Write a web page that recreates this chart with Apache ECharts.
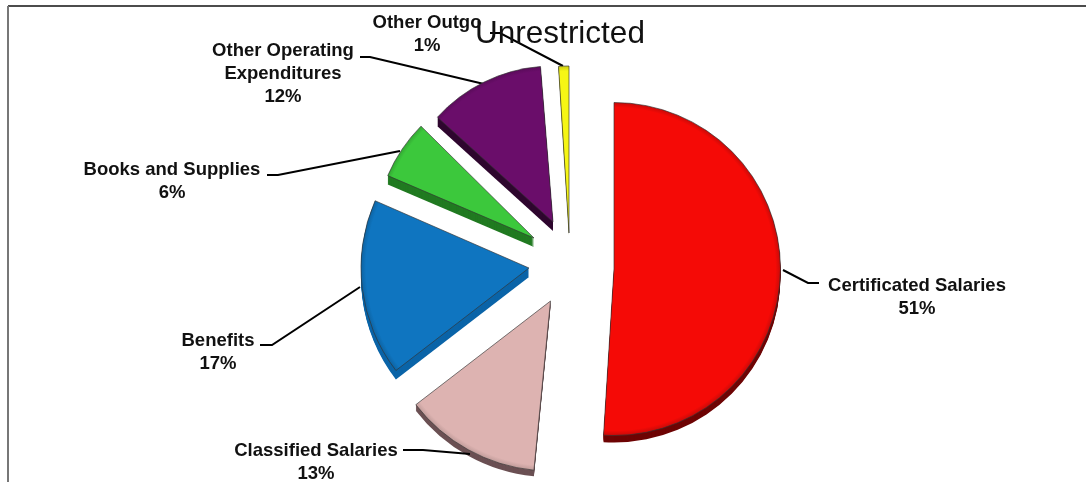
<!DOCTYPE html>
<html>
<head>
<meta charset="utf-8">
<style>html,body{margin:0;padding:0;background:#fff}#chart{width:1086px;height:482px}</style>
<script src="https://cdn.jsdelivr.net/npm/echarts@6/dist/echarts.min.js"></script>
</head>
<body>
<div id="chart"></div>
<script>
// Unrestricted general fund expenditures, share by category
const categories = ['Certificated Salaries', 'Classified Salaries', 'Benefits', 'Books and Supplies', 'Other Operating\nExpenditures', 'Other Outgo'];
const shares = [51, 13, 17, 6, 12, 1];
const chartTitle = 'Unrestricted';

// Appearance of each exploded wedge
const faceColors = ['#f50a06', '#ddb3b1', '#0f75c0', '#3cc83c', '#6a0d6a', '#f6f615'];
const rimColors = ['#c80a08', '#c09c9a', '#0d63a2', '#33a833', '#5a0b5a', '#c8c812'];
const sideColors = ['#6e0404', '#6b5053', '#0a64a8', '#217a21', '#2e062e', '#6b6b10'];
const centers = [[614, 269], [550.5, 301], [529, 268], [534, 238], [553, 222], [569, 233]];
const radii = [166.5, 170, 168, 159, 156, 167];
const depths = [7, 6, 9, 9, 9, 2];
const tilt = [0, 2, 2, 1.5, -1, 0];
const labelSpots = [[917, 297], [316, 462], [218, 352], [172, 181], [283, 74], [427, 34]];
const leaders = [
  [[783, 270], [808, 283], [819, 283]],
  [[470, 454], [423, 450], [403, 450]],
  [[360, 287], [272, 345], [260, 345]],
  [[400, 151], [278, 175], [267, 175]],
  [[484, 84], [370, 57], [360, 57]],
  [[563, 66], [500, 33], [490, 33]]
];

const font = '"Liberation Sans", Arial, sans-serif';
const hidden = { color: 'rgba(0,0,0,0)', borderWidth: 0, opacity: 0 };

// One pie per layer so every wedge can sit at its own centre
function wedge(i, dy, isFace) {
  const [cx, cy] = centers[i];
  return {
    type: 'pie',
    z: isFace ? 5 : 2,
    silent: true,
    animation: false,
    clockwise: true,
    startAngle: 90 - tilt[i],
    center: [cx, cy + dy],
    radius: [0, radii[i]],
    percentPrecision: 0,
    avoidLabelOverlap: false,
    labelLayout: isFace ? () => ({
      x: labelSpots[i][0],
      y: labelSpots[i][1],
      align: 'center',
      verticalAlign: 'middle',
      labelLinePoints: leaders[i]
    }) : undefined,
    data: categories.map((name, k) => {
      if (k !== i) {
        return { name, value: shares[k], itemStyle: hidden, label: { show: false }, labelLine: { show: false } };
      }
      return {
        name,
        value: shares[k],
        itemStyle: isFace ? {
          color: {
            type: 'radial', global: true, x: cx, y: cy, r: radii[i],
            colorStops: [
              { offset: 0, color: faceColors[i] },
              { offset: 0.97, color: faceColors[i] },
              { offset: 1, color: rimColors[i] }
            ]
          },
          borderColor: 'rgba(50,50,50,0.65)',
          borderWidth: 1
        } : { color: sideColors[i], borderWidth: 0 },
        label: isFace ? {
          show: true,
          formatter: '{b}\n{d}%',
          color: '#111',
          fontFamily: font,
          fontWeight: 'bold',
          fontSize: 18.5,
          lineHeight: 23,
          align: 'center'
        } : { show: false },
        labelLine: isFace ? {
          show: true,
          smooth: false,
          lineStyle: { color: '#000', width: 2 }
        } : { show: false }
      };
    })
  };
}

const series = [];
categories.forEach((_, i) => {
  for (let d = depths[i]; d > 0; d -= 1) series.push(wedge(i, d, false));
  series.push(wedge(i, 0, true));
});

const chart = echarts.init(document.getElementById('chart'), null, { renderer: 'canvas' });
chart.setOption({
  backgroundColor: '#fff',
  animation: false,
  title: {
    text: chartTitle,
    left: 555,
    top: 13,
    textAlign: 'center',
    z: 20,
    textStyle: { color: '#111', fontFamily: font, fontWeight: 'normal', fontSize: 31.5 }
  },
  graphic: [
    { type: 'line', z: 0, shape: { x1: 8, y1: 6, x2: 1086, y2: 6 }, style: { stroke: '#111', lineWidth: 1.5 } },
    { type: 'line', z: 0, shape: { x1: 8, y1: 6, x2: 8, y2: 482 }, style: { stroke: '#777', lineWidth: 2 } }
  ],
  series
});
</script>
</body>
</html>
